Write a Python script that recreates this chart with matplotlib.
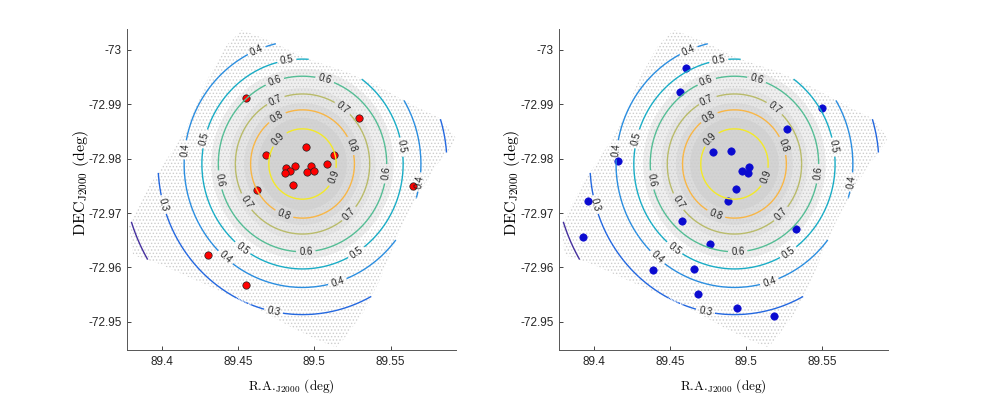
import numpy as np
import matplotlib
matplotlib.use('Agg')
import matplotlib.pyplot as plt
from matplotlib.path import Path
from matplotlib.patches import Polygon, Ellipse

plt.rcParams['font.family'] = ['Liberation Sans', 'DejaVu Sans']
plt.rcParams['mathtext.fontset'] = 'cm'
plt.rcParams['axes.unicode_minus'] = False
plt.rcParams['hatch.linewidth'] = 0.6

# outline of the observed star field (R.A., Dec)
field_ra = [89.4526, 89.4729, 89.4939, 89.5214, 89.5430, 89.5646, 89.5823, 89.5928,
            89.5882, 89.5803, 89.5699, 89.5594, 89.5515, 89.5430, 89.5319, 89.5188,
            89.5142, 89.5037, 89.4860, 89.4598, 89.4428, 89.4205, 89.3989, 89.3812,
            89.3786, 89.3923, 89.4159, 89.4297, 89.4421]
field_dec = [-73.00368, -73.00147, -72.99853, -72.99595, -72.99319, -72.98988, -72.98748, -72.98380,
             -72.98159, -72.97883, -72.97423, -72.96871, -72.96374, -72.95767, -72.95159, -72.94662,
             -72.94533, -72.94644, -72.94883, -72.95288, -72.95509, -72.95785, -72.96061, -72.96227,
             -72.96761, -72.97515, -72.98528, -72.99448, -73.00074]

# completeness map: radius on the sky (deg) of each contour level around the centre
cen_ra, cen_dec = 89.4923, -72.97902
comp_level = [0.9, 0.8, 0.7, 0.6, 0.5, 0.4, 0.3, 0.2]
comp_radius = [0.00648, 0.00996, 0.01288, 0.01615, 0.0193, 0.0227, 0.0277, 0.0345]
# star density rises towards the cluster core
core_radius = [0.0175, 0.0140, 0.0112, 0.0085]
core_tone = ['#efefef', '#e6e6e6', '#dcdcdc', '#d3d3d3']

# where the contour labels sit
label_ra = [89.4618, 89.4819, 89.4742, 89.5065, 89.4742, 89.5186, 89.4757, 89.4770,
            89.4284, 89.4141, 89.5233, 89.5566, 89.5124, 89.4382, 89.5463, 89.5703,
            89.4552, 89.4010, 89.4803, 89.5233, 89.4945, 89.4531, 89.5277, 89.4408,
            89.5157, 89.4736]
label_dec = [-73.0001, -72.99785, -72.99405, -72.99435, -72.9908, -72.98945, -72.98743, -72.98343,
             -72.98356, -72.98159, -72.98233, -72.9822, -72.97668, -72.97607, -72.97731, -72.97576,
             -72.97189, -72.97147, -72.96981, -72.96981, -72.96306, -72.96343, -72.96277, -72.96148,
             -72.95706, -72.95183]

red_ra = [89.4550, 89.5292, 89.4685, 89.4945, 89.5127, 89.5083, 89.4977, 89.4874, 89.4813,
          89.4844, 89.4806, 89.4952, 89.4996, 89.4862, 89.4628, 89.5644, 89.4305, 89.4550]
red_dec = [-72.99122, -72.98754, -72.98067, -72.98209, -72.98073, -72.97911, -72.9787, -72.97859, -72.97832,
           -72.97778, -72.97732, -72.97754, -72.97767, -72.97524, -72.97423, -72.97491, -72.96232, -72.95675]

blue_ra = [89.4604, 89.4569, 89.5495, 89.5268, 89.4783, 89.4902, 89.5018, 89.4974, 89.5010, 89.4935,
           89.4879, 89.4157, 89.3963, 89.3928, 89.4582, 89.5325, 89.4761, 89.4390, 89.4660, 89.4687,
           89.4940, 89.5183]
blue_dec = [-72.99674, -72.99232, -72.98932, -72.98546, -72.98128, -72.98139, -72.97847, -72.97778, -72.97742, -72.97447,
            -72.97215, -72.97957, -72.97226, -72.96553, -72.96853, -72.967, -72.96424, -72.95951, -72.95964, -72.95514,
            -72.95257, -72.95098]

level_colors = {0.2: '#45309e', 0.3: '#2468e0', 0.4: '#2b8ee0', 0.5: '#1aadc6',
                0.6: '#55bd95', 0.7: '#b9bb6a', 0.8: '#f8b646', 0.9: '#f3e928'}

xticks = [89.4, 89.45, 89.5, 89.55]
yticks = [-73, -72.99, -72.98, -72.97, -72.96, -72.95]
ytick_labels = ['-73', '-72.99', '-72.98', '-72.97', '-72.96', '-72.95']

# gridded completeness map, masked outside the field
cosd = np.cos(np.radians(cen_dec))
gra, gdec = np.meshgrid(np.linspace(89.37, 89.60, 500), np.linspace(-73.006, -72.943, 500))
rr = np.hypot((gra - cen_ra) * cosd, gdec - cen_dec)
zz = np.interp(rr, [0] + comp_radius + [0.06], [1.0] + comp_level + [0.0])
field_path = Path(np.column_stack([field_ra, field_dec]))
inside = field_path.contains_points(np.column_stack([gra.ravel(), gdec.ravel()])).reshape(gra.shape)
zz = np.ma.masked_where(~inside, zz)
levels = sorted(comp_level)

fig = plt.figure(figsize=(9.81, 3.94), dpi=100)
ax1 = fig.add_axes([0.1298, 0.1117, 0.3349, 0.8139])
ax2 = fig.add_axes([0.5701, 0.1117, 0.3349, 0.8139])

for ax, pra, pdec, style in [(ax1, red_ra, red_dec, dict(mfc='#ff0000', mec='#202020', mew=0.5)),
                              (ax2, blue_ra, blue_dec, dict(mfc='#0a0ad0', mec='#0a0ad0', mew=0.5))]:
    ax.set_xlim(89.3775, 89.5928)
    ax.set_ylim(-72.9448, -73.0038)

    # background stars
    clip = Polygon(np.column_stack([field_ra, field_dec]), transform=ax.transData)
    for r, c in zip(core_radius, core_tone):
        e = Ellipse((cen_ra, cen_dec), 2 * r / cosd, 2 * r, facecolor=c, edgecolor='none', zorder=1)
        ax.add_patch(e)
        e.set_clip_path(clip)
    ax.add_patch(Polygon(np.column_stack([field_ra, field_dec]), closed=True, facecolor='none',
                         edgecolor='#cdcdcd', linewidth=0, hatch='.....', zorder=1.5))

    ax.plot(pra, pdec, 'o', ms=5.3, linestyle='none', zorder=2.5, **style)

    # lowest level drawn on its own, without label
    ax.contour(gra, gdec, zz, levels=[levels[0]], colors=[level_colors[levels[0]]],
               linewidths=1.0, zorder=3)
    cs = ax.contour(gra, gdec, zz, levels=levels[1:], colors=[level_colors[l] for l in levels[1:]],
                    linewidths=1.0, zorder=3)
    ax.clabel(cs, manual=list(zip(label_ra, label_dec)), inline=True,
              inline_spacing=3, fontsize=7, fmt='%.1f', colors='#262626')

    ax.set_xticks(xticks)
    ax.set_xticklabels([str(t) for t in xticks])
    ax.set_yticks(yticks)
    ax.set_yticklabels(ytick_labels)
    ax.tick_params(direction='in', length=3, width=0.6, labelsize=8.5, colors='#262626',
                   top=False, right=False, pad=4)
    for s in ['top', 'right']:
        ax.spines[s].set_visible(False)
    for s in ['left', 'bottom']:
        ax.spines[s].set_color('#555555')
        ax.spines[s].set_linewidth(0.7)

    ax.set_xlabel(r'R.A.$_{\mathrm{J2000}}$ (deg)', fontsize=9.5, family='cmr10')
    ax.set_ylabel(r'DEC$_{\mathrm{J2000}}$ (deg)', fontsize=11.5, family='cmr10')
    ax.xaxis.set_label_coords(0.5, -0.085)
    ax.yaxis.set_label_coords(-0.112, 0.52)

fig.savefig('out.png', dpi=100)
